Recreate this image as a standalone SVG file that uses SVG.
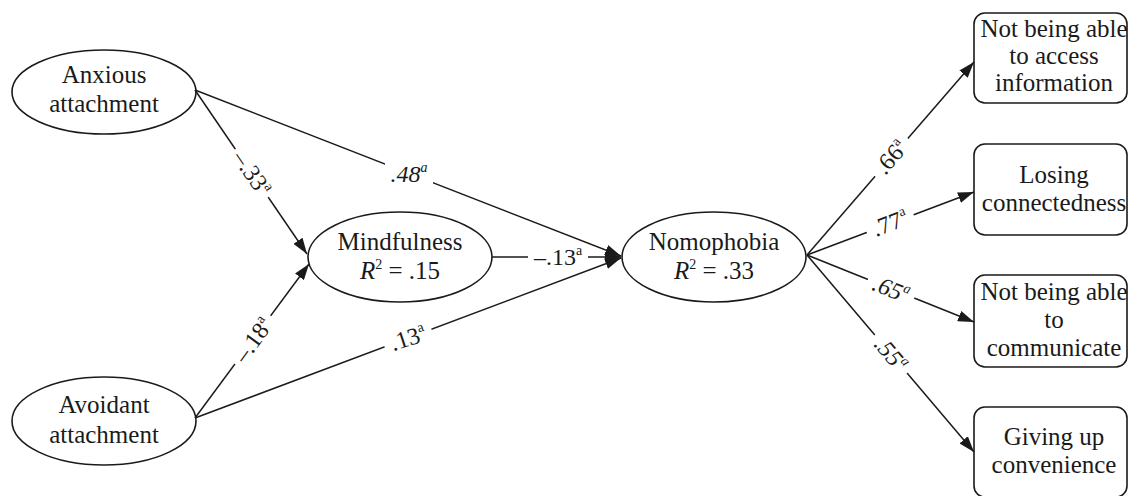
<svg xmlns="http://www.w3.org/2000/svg" width="1129" height="496" viewBox="0 0 1129 496">
<style>
.node ellipse, .node rect { fill:#fff; stroke:#1a1a1a; stroke-width:1.6; }
.t { font-family:'Liberation Serif','DejaVu Serif',serif; font-size:25px; fill:#1a1a1a; text-anchor:middle; }
.e { stroke:#1a1a1a; stroke-width:1.5; fill:none; }
.a { marker-end:url(#arr); }
.lbl { font-family:'Liberation Serif','DejaVu Serif',serif; font-size:24px; fill:#1a1a1a; text-anchor:middle; }
.it { font-style:italic; }
.bg { fill:#fff; }
</style>
<defs>
<marker id="arr" viewBox="0 0 16 11" refX="16" refY="5.5" markerWidth="16" markerHeight="11" markerUnits="userSpaceOnUse" orient="auto">
<path d="M0,0 L16,5.5 L0,11 z" fill="#1a1a1a"/>
</marker>
</defs>
<rect width="1129" height="496" fill="#fff"/>

<g id="anxious" class="node">
<ellipse cx="104" cy="92" rx="92" ry="42"/>
<text class="t" x="104" y="83">Anxious</text>
<text class="t" x="104" y="112">attachment</text>
</g>
<g id="avoidant" class="node">
<ellipse cx="104" cy="421" rx="92" ry="44"/>
<text class="t" x="104" y="413">Avoidant</text>
<text class="t" x="104" y="443">attachment</text>
</g>
<g id="mindfulness" class="node">
<ellipse cx="400" cy="257" rx="92" ry="45"/>
<text class="t" x="400" y="250">Mindfulness</text>
<text class="t" x="400" y="279"><tspan font-style="italic">R</tspan><tspan font-size="14" dy="-10">2</tspan><tspan dy="10"> = .15</tspan></text>
</g>
<g id="nomophobia" class="node">
<ellipse cx="714" cy="257" rx="92" ry="45"/>
<text class="t" x="714" y="250">Nomophobia</text>
<text class="t" x="714" y="279"><tspan font-style="italic">R</tspan><tspan font-size="14" dy="-10">2</tspan><tspan dy="10"> = .33</tspan></text>
</g>
<g id="access" class="node">
<rect x="974" y="13" width="153" height="90" rx="11"/>
<text class="t" x="1054" y="37">Not being able</text>
<text class="t" x="1054" y="64">to access</text>
<text class="t" x="1054" y="91">information</text>
</g>
<g id="connectedness" class="node">
<rect x="974" y="144" width="153" height="91" rx="11"/>
<text class="t" x="1054" y="183">Losing</text>
<text class="t" x="1054" y="211">connectedness</text>
</g>
<g id="communicate" class="node">
<rect x="974" y="275" width="153" height="92" rx="11"/>
<text class="t" x="1054" y="300">Not being able</text>
<text class="t" x="1054" y="328">to</text>
<text class="t" x="1054" y="356">communicate</text>
</g>
<g id="convenience" class="node">
<rect x="974" y="407" width="153" height="90" rx="11"/>
<text class="t" x="1054" y="445">Giving up</text>
<text class="t" x="1054" y="473">convenience</text>
</g>

<g id="connectors">
<line class="e a" x1="195" y1="90" x2="307" y2="254"/>
<line class="e a" x1="195" y1="90" x2="621" y2="256"/>
<line class="e a" x1="195" y1="418" x2="309" y2="264"/>
<line class="e a" x1="195" y1="418" x2="621" y2="258"/>
<line class="e a" x1="492" y1="257" x2="621" y2="257"/>
<line class="e a" x1="807" y1="255" x2="974" y2="62"/>
<line class="e a" x1="807" y1="255" x2="974" y2="192"/>
<line class="e a" x1="807" y1="255" x2="974" y2="322"/>
<line class="e a" x1="807" y1="255" x2="974" y2="452"/>

<g transform="translate(252,173) rotate(56)"><rect class="bg" x="-29" y="-11" width="58" height="22"/><text class="lbl" y="8">–.33<tspan font-size="14" dy="-10">a</tspan></text></g>
<g transform="translate(409,174)"><rect class="bg" x="-24" y="-11" width="48" height="22"/><text class="lbl it" y="8">.48<tspan font-size="14" dy="-10">a</tspan></text></g>
<g transform="translate(558,257)"><rect class="bg" x="-30" y="-11" width="60" height="22"/><text class="lbl" y="8">–.13<tspan font-size="14" dy="-10">a</tspan></text></g>
<g transform="translate(408,338) rotate(-18)"><rect class="bg" x="-25" y="-11" width="50" height="22"/><text class="lbl" y="8">.13<tspan font-size="14" dy="-10">a</tspan></text></g>
<g transform="translate(253,340) rotate(-54)"><rect class="bg" x="-30" y="-11" width="60" height="22"/><text class="lbl" y="8">–.18<tspan font-size="14" dy="-10">a</tspan></text></g>
<g transform="translate(891,157) rotate(-49)"><rect class="bg" x="-25" y="-11" width="50" height="22"/><text class="lbl" y="8">.66<tspan font-size="14" dy="-10">a</tspan></text></g>
<g transform="translate(890,223) rotate(-21)"><rect class="bg" x="-25" y="-11" width="50" height="22"/><text class="lbl" y="8">.77<tspan font-size="14" dy="-10">a</tspan></text></g>
<g transform="translate(891,289) rotate(22)"><rect class="bg" x="-25" y="-11" width="50" height="22"/><text class="lbl it" y="8">.65<tspan font-size="14" dy="-10">a</tspan></text></g>
<g transform="translate(891,354) rotate(50)"><rect class="bg" x="-25" y="-11" width="50" height="22"/><text class="lbl it" y="8">.55<tspan font-size="14" dy="-10">a</tspan></text></g>
</g>
</svg>
